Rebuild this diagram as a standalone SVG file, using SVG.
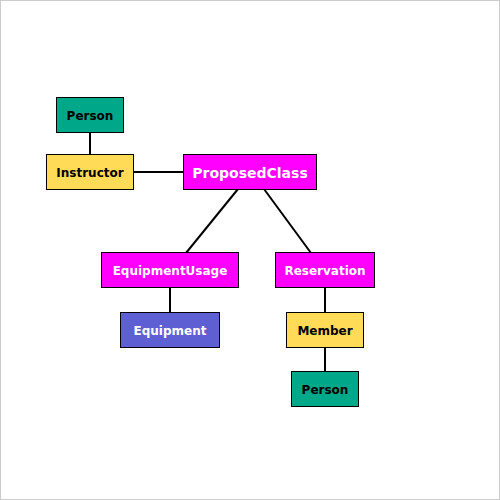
<svg xmlns="http://www.w3.org/2000/svg" width="500" height="500" viewBox="0 0 500 500">
<style>
.node rect{stroke:#000;stroke-width:1}
.node text{font-family:"DejaVu Sans",sans-serif;font-weight:bold;font-size:12px;text-anchor:middle}
.teal{fill:#00a88a}
.yellow{fill:#ffdb58}
.magenta{fill:#ff00ff}
.blue{fill:#5f5fd4}
.dark{fill:#000}
.light{fill:#fff}
#connectors line{stroke:#000;stroke-width:2}
</style>
<rect x="0.5" y="0.5" width="499" height="499" fill="#fff" stroke="#ccc" stroke-width="1"/>
<g id="connectors">
<line x1="90" y1="132" x2="90" y2="155"/>
<line x1="133" y1="172" x2="184" y2="172"/>
<line x1="238" y1="189" x2="186" y2="253"/>
<line x1="264" y1="189" x2="311" y2="253"/>
<line x1="170" y1="287" x2="170" y2="313"/>
<line x1="325" y1="287" x2="325" y2="313"/>
<line x1="325" y1="347" x2="325" y2="372"/>
</g>
<g id="person1" class="node">
<rect class="teal" x="56.5" y="97.5" width="67" height="35"/>
<text class="dark" x="90" y="116" dy="0.36em">Person</text>
</g>
<g id="instructor" class="node">
<rect class="yellow" x="46.5" y="154.5" width="87" height="35"/>
<text class="dark" x="90" y="173" dy="0.36em">Instructor</text>
</g>
<g id="proposedclass" class="node">
<rect class="magenta" x="183.5" y="154.5" width="133" height="35"/>
<text class="light" x="250" y="172.5" dy="0.36em" style="font-size:14px">ProposedClass</text>
</g>
<g id="equipmentusage" class="node">
<rect class="magenta" x="101.5" y="252.5" width="137" height="35"/>
<text class="light" x="170" y="271" dy="0.36em">EquipmentUsage</text>
</g>
<g id="reservation" class="node">
<rect class="magenta" x="275.5" y="252.5" width="99" height="35"/>
<text class="light" x="325" y="271" dy="0.36em">Reservation</text>
</g>
<g id="equipment" class="node">
<rect class="blue" x="120.5" y="312.5" width="99" height="35"/>
<text class="light" x="170" y="331" dy="0.36em">Equipment</text>
</g>
<g id="member" class="node">
<rect class="yellow" x="286.5" y="312.5" width="77" height="35"/>
<text class="dark" x="325" y="331" dy="0.36em">Member</text>
</g>
<g id="person2" class="node">
<rect class="teal" x="291.5" y="371.5" width="67" height="35"/>
<text class="dark" x="325" y="390" dy="0.36em">Person</text>
</g>
</svg>
